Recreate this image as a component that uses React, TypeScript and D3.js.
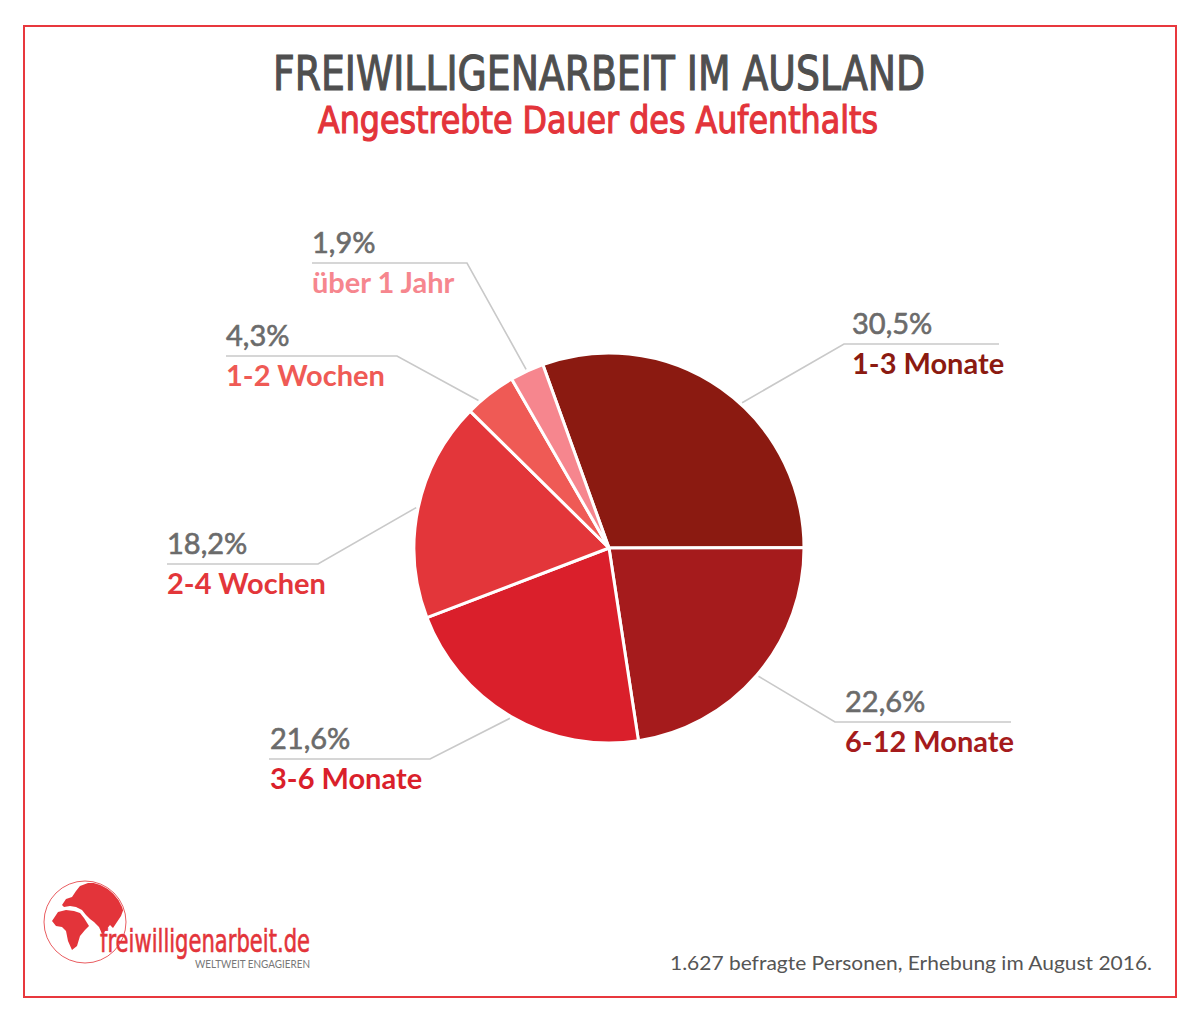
import React from 'react';
import * as d3 from 'd3';

// Kategorien, Werte (Beschriftung) und gezeichnete Anteile
const categories = ['1-3 Monate', '6-12 Monate', '3-6 Monate', '2-4 Wochen', '1-2 Wochen', 'über 1 Jahr'];
const percentLabels = ['30,5%', '22,6%', '21,6%', '18,2%', '4,3%', '1,9%'];
// Slice sizes as drawn in the picture (the smallest slice absorbs the missing share)
const sliceValues = [30.5, 22.6, 21.6, 18.2, 4.3, 2.8];
const colors = ['#8b1a11', '#a51b1c', '#da1f2b', '#e3363a', '#ef5a55', '#f6868e'];

// label placement: text x, guide line y, elbow x, far end x, optional angle where the line meets the pie
const labelLayout = [
  { x: 852, y: 344, elbow: 844, end: 999, angle: 42.5 },
  { x: 845, y: 722, elbow: 835, end: 1011 },
  { x: 270, y: 759, elbow: 430, end: 269 },
  { x: 167, y: 564, elbow: 318, end: 167 },
  { x: 226, y: 356, elbow: 397, end: 226, angle: -41.5 },
  { x: 312, y: 263, elbow: 467, end: 312 },
];

const W = 1200;
const H = 1022;
const cx = 609;
const cy = 548;
const R = 195;
const startDeg = -19.85;

const labelFont = 'Lato, "Open Sans", sans-serif';
const narrowFont = '"Liberation Sans Narrow", "DejaVu Sans Condensed", sans-serif';

export default function App() {
  const pie = d3
    .pie<number>()
    .sort(null)
    .value((d) => d)
    .startAngle((startDeg * Math.PI) / 180)
    .endAngle((startDeg * Math.PI) / 180 + Math.PI * 2);
  const arcs = pie(sliceValues);
  const arc = d3.arc<d3.PieArcDatum<number>>().innerRadius(0).outerRadius(R);

  return (
    <svg
      width={W}
      height={H}
      viewBox={`0 0 ${W} ${H}`}
      style={{ position: 'absolute', left: 0, top: 0, background: '#fff' }}
    >
      <rect x={0} y={0} width={W} height={H} fill="#fff" />
      <rect x={24} y={26} width={1152} height={971} fill="none" stroke="#e8383d" strokeWidth={2} />

      {/* Titel */}
      <text
        x={599}
        y={90}
        textAnchor="middle"
        fontFamily={narrowFont}
        fontSize={48}
        fill="#4f4f4f"
        stroke="#4f4f4f"
        strokeWidth={1.1}
        textLength={652}
        lengthAdjust="spacingAndGlyphs"
      >
        FREIWILLIGENARBEIT IM AUSLAND
      </text>
      <text
        x={598}
        y={133}
        textAnchor="middle"
        fontFamily={narrowFont}
        fontSize={37}
        fill="#e3343a"
        stroke="#e3343a"
        strokeWidth={1.1}
        textLength={560}
        lengthAdjust="spacingAndGlyphs"
      >
        Angestrebte Dauer des Aufenthalts
      </text>

      {/* Kreis */}
      <g transform={`translate(${cx},${cy})`}>
        {arcs.map((a, i) => (
          <path key={categories[i]} d={arc(a) || ''} fill={colors[i]} stroke="#fff" strokeWidth={3} strokeLinejoin="round" />
        ))}
      </g>

      {/* Führungslinien und Beschriftungen */}
      {arcs.map((a, i) => {
        const l = labelLayout[i];
        const ang = l.angle !== undefined ? (l.angle * Math.PI) / 180 : (a.startAngle + a.endAngle) / 2;
        const [ex, ey] = d3.pointRadial(ang, R + 2);
        return (
          <g key={`lab-${i}`}>
            <polyline
              points={`${cx + ex},${cy + ey} ${l.elbow},${l.y} ${l.end},${l.y}`}
              fill="none"
              stroke="#c9c9c9"
              strokeWidth={1.6}
            />
            <text
              x={l.x}
              y={l.y - 10}
              fontFamily={labelFont}
              fontSize={29}
              fill="#6b6b6b"
              stroke="#6b6b6b"
              strokeWidth={0.6}
            >
              {percentLabels[i]}
            </text>
            <text x={l.x} y={l.y + 30} fontFamily={labelFont} fontWeight={700} fontSize={29} fill={colors[i]}>
              {categories[i]}
            </text>
          </g>
        );
      })}

      {/* Logo */}
      <defs>
        <clipPath id="globeClip">
          <circle cx={85} cy={922} r={40} />
        </clipPath>
      </defs>
      <circle cx={85} cy={922} r={41} fill="none" stroke="#e3343a" strokeWidth={1} opacity={0.8} />
      <g clipPath="url(#globeClip)" fill="#e3343a">
        <path d="M 52 921 L 58 912 L 66 910 L 74 911 L 80 913 L 84 918 L 89 926 L 85 930 L 80 936 L 77 946 L 72 950 L 68 941 L 66 931 L 62 927 L 56 926 Z" />
        <path d="M 62 905 L 66 899 L 72 897 L 76 891 L 80 886 L 88 883 L 96 883 L 106 885 L 116 888 L 123 893 L 126 900 L 124 908 L 121 916 L 117 922 L 113 928 L 110 925 L 106 930 L 102 934 L 99 927 L 94 922 L 90 919 L 86 915 L 82 910 L 76 907 L 70 906 L 64 907 Z" />
      </g>
      <text
        x={100}
        y={952}
        fontFamily={narrowFont}
        fontSize={32}
        fill="#e3343a"
        stroke="#e3343a"
        strokeWidth={0.6}
        textLength={210}
        lengthAdjust="spacingAndGlyphs"
      >
        freiwilligenarbeit.de
      </text>
      <text
        x={195}
        y={968}
        fontFamily={labelFont}
        fontSize={10.5}
        fill="#777"
        textLength={115}
        lengthAdjust="spacingAndGlyphs"
      >
        WELTWEIT ENGAGIEREN
      </text>

      {/* Quelle */}
      <text
        x={1152}
        y={970}
        textAnchor="end"
        fontFamily={labelFont}
        fontSize={20}
        fill="#555"
        textLength={482}
        lengthAdjust="spacingAndGlyphs"
      >
        1.627 befragte Personen, Erhebung im August 2016.
      </text>
    </svg>
  );
}
